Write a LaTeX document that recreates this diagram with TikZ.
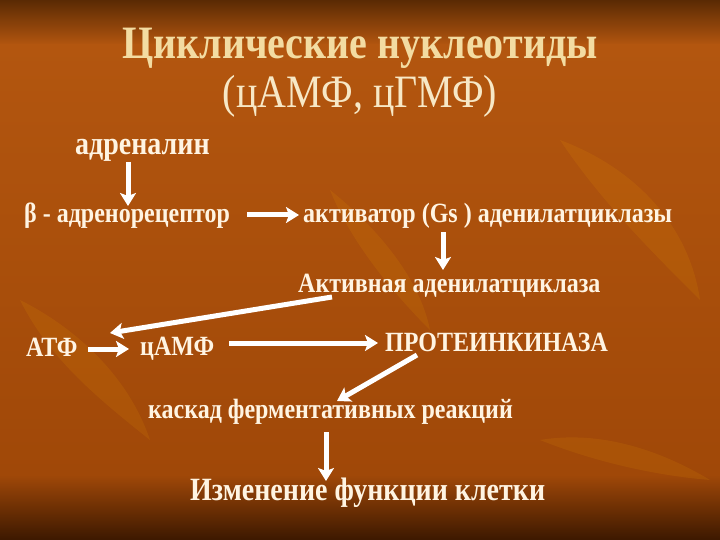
\documentclass[tikz,border=0pt]{standalone}
\usepackage{fontspec}
\usepackage{graphicx}
\setmainfont{Liberation Serif}
\usetikzlibrary{arrows.meta,calc}
\definecolor{bgtop}{HTML}{5A2A04}
\definecolor{bgmid}{HTML}{B3560F}
\definecolor{bglow}{HTML}{A04808}
\definecolor{bgbot}{HTML}{3C1800}
\definecolor{titlecol}{HTML}{F3DCA2}
\definecolor{subcol}{HTML}{F7E8C6}
\definecolor{txtcol}{HTML}{FFF4E2}
\newcommand{\tallt}[1]{\scalebox{1}[1.16]{#1}}
\tikzset{
  lbl/.style={text=txtcol, font=\fontsize{24}{26}\selectfont\bfseries, inner sep=0pt, anchor=west},
  arr/.style={draw=white, line width=5pt, -{Stealth[length=13pt,width=16pt,inset=3pt]}},
  leaf/.style={fill=orange!60!yellow, opacity=0.10, draw=none},
  ttl/.style={text=titlecol, font=\fontsize{40}{44}\selectfont\bfseries, inner sep=0pt}
}
\begin{document}
\begin{tikzpicture}[x=1pt,y=-1pt]
\useasboundingbox (0,0) rectangle (720,540);
\shade[top color=bgtop, bottom color=bgmid] (0,0) rectangle (720,45);
\shade[top color=bgmid, bottom color=bglow] (0,45) rectangle (720,475);
\shade[top color=bglow, bottom color=bgbot] (0,475) rectangle (720,540);
% faint leaves
\fill[leaf] (560,140) .. controls (640,170) and (690,230) .. (700,300) .. controls (650,250) and (600,200) .. (560,140);
\fill[leaf] (20,300) .. controls (80,330) and (130,380) .. (150,440) .. controls (100,400) and (50,360) .. (20,300);
\fill[leaf] (330,190) .. controls (380,230) and (420,280) .. (430,330) .. controls (390,290) and (350,240) .. (330,190);
\fill[leaf] (540,440) .. controls (600,430) and (660,450) .. (710,480) .. controls (650,475) and (590,460) .. (540,440);
% title
\node[ttl] (t1) at (360,48) {\tallt{Циклические нуклеотиды}};
\node[ttl, text=subcol, font=\fontsize{40}{44}\selectfont] (t2) at (360,96) {\tallt{(цАМФ, цГМФ)}};
% nodes
\node[lbl, font=\fontsize{28}{30}\selectfont\bfseries] (adr) at (75,150) {\tallt{адреналин}};
\node[lbl] (rec) at (24,216) {\tallt{β - адренорецептор}};
\node[lbl] (act) at (303,216) {\tallt{активатор (Gs ) аденилатциклазы}};
\node[lbl] (aac) at (298,286) {\tallt{Активная аденилатциклаза}};
\node[lbl] (atf) at (26,347) {\tallt{АТФ}};
\node[lbl] (camp) at (140,349) {\tallt{цАМФ}};
\node[lbl] (pk) at (385,342) {\tallt{ПРОТЕИНКИНАЗА}};
\node[lbl] (cas) at (148,412) {\tallt{каскад ферментативных реакций}};
\node[lbl, font=\fontsize{28}{30}\selectfont\bfseries] (chg) at (190,493) {\tallt{Изменение функции клетки}};
% arrows
\coordinate (a1s) at (128,162);
\coordinate (a1e) at (128,206);
\draw[arr] (a1s) -- (a1e);
\coordinate (a2s) at (247,215);
\coordinate (a2e) at (299,215);
\draw[arr] (a2s) -- (a2e);
\coordinate (a3s) at (443,232);
\coordinate (a3e) at (443,270);
\draw[arr] (a3s) -- (a3e);
\coordinate (a4s) at (332,297);
\coordinate (a4e) at (110,333);
\draw[arr] (a4s) -- (a4e);
\coordinate (a5s) at (88,349);
\coordinate (a5e) at (129,349);
\draw[arr] (a5s) -- (a5e);
\coordinate (a6s) at (229,343);
\coordinate (a6e) at (378,343);
\draw[arr] (a6s) -- (a6e);
\coordinate (a7s) at (417,355);
\coordinate (a7e) at (337,401);
\draw[arr] (a7s) -- (a7e);
\coordinate (a8s) at (326,432);
\coordinate (a8e) at (326,481);
\draw[arr] (a8s) -- (a8e);
\end{tikzpicture}
\end{document}
